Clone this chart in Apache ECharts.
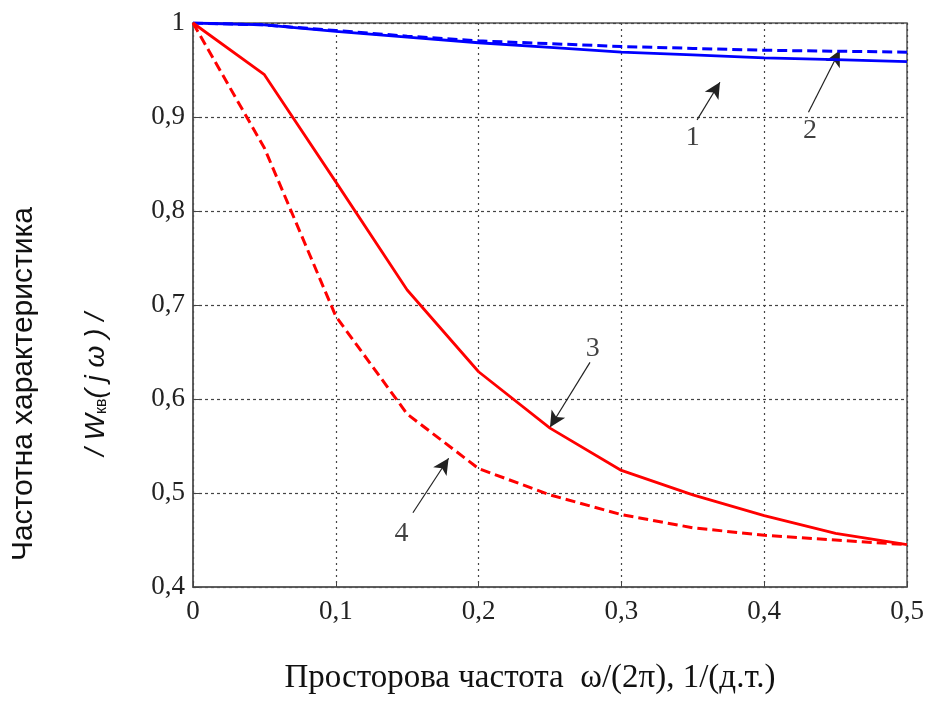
<!DOCTYPE html>
<html><head><meta charset="utf-8">
<script src="https://cdn.jsdelivr.net/npm/echarts@6/dist/echarts.min.js"></script>
<style>html,body{margin:0;padding:0;background:#fff}#c{width:930px;height:709px}</style>
</head><body><div id="c"></div>
<script>
const freq = [0, 0.05, 0.1, 0.15, 0.2, 0.25, 0.3, 0.35, 0.4, 0.45, 0.5];
const curve1 = [1.0, 0.998, 0.991, 0.985, 0.979, 0.974, 0.969, 0.966, 0.963, 0.961, 0.959];
const curve2 = [1.0, 0.998, 0.992, 0.986, 0.981, 0.978, 0.975, 0.973, 0.971, 0.970, 0.969];
const curve3 = [1.0, 0.945, 0.831, 0.716, 0.629, 0.569, 0.524, 0.498, 0.476, 0.457, 0.445];
const curve4 = [1.0, 0.867, 0.688, 0.584, 0.526, 0.498, 0.477, 0.463, 0.455, 0.450, 0.445];
const xTicks = ['0', '0,1', '0,2', '0,3', '0,4', '0,5'];
const yTicks = ['0,4', '0,5', '0,6', '0,7', '0,8', '0,9', '1'];
const curveLabels = ['1', '2', '3', '4'];
const labelPos = [[0.350, 0.878], [0.432, 0.886], [0.280, 0.654], [0.146, 0.457]];
const arrowTail = [[0.353, 0.897], [0.431, 0.905], [0.278, 0.639], [0.154, 0.479]];
const arrowHead = [[0.369, 0.937], [0.453, 0.971], [0.250, 0.570], [0.179, 0.537]];

const pair = (ys) => freq.map((x, i) => [x, ys[i]]);
const serif = 'Liberation Serif';
const chart = echarts.init(document.getElementById('c'));
chart.setOption({
  animation: false,
  backgroundColor: '#fff',
  grid: { left: 193, right: 23, top: 23, bottom: 122, show: true, borderColor: '#555', borderWidth: 1.5 },
  xAxis: {
    type: 'value', min: 0, max: 0.5, interval: 0.1,
    name: 'Просторова частота  ω/(2π), 1/(д.т.)', nameLocation: 'middle', nameGap: 75,
    nameTextStyle: { fontFamily: serif, fontSize: 33, color: '#111', padding: [0, 40, 0, 0] },
    axisLine: { show: true, lineStyle: { color: '#555', width: 1.5 } },
    axisTick: { show: true, inside: true, length: 6, lineStyle: { color: '#444' } },
    axisLabel: { fontFamily: serif, fontSize: 27, color: '#222', margin: 11,
      formatter: (v) => xTicks[Math.round(v * 10)] },
    splitLine: { show: true, lineStyle: { type: [2, 4], color: '#444', width: 1.2 } }
  },
  yAxis: {
    type: 'value', min: 0.4, max: 1, interval: 0.1,
    axisLine: { show: true, lineStyle: { color: '#555', width: 1.5 } },
    axisTick: { show: true, inside: true, length: 6, lineStyle: { color: '#444' } },
    axisLabel: { fontFamily: serif, fontSize: 27, color: '#222', margin: 8,
      formatter: (v) => yTicks[Math.round(v * 10) - 4] },
    splitLine: { show: true, lineStyle: { type: [3, 3], color: '#444', width: 1.2 } }
  },
  series: [
    { type: 'line', data: pair(curve1), symbol: 'none', lineStyle: { color: '#0000ff', width: 2.8 }, z: 5 },
    { type: 'line', data: pair(curve2), symbol: 'none', lineStyle: { color: '#0000ff', width: 3, type: [10, 5] }, z: 5 },
    { type: 'line', data: pair(curve3), symbol: 'none', lineStyle: { color: '#ff0000', width: 2.8 }, z: 5 },
    { type: 'line', data: pair(curve4), symbol: 'none', lineStyle: { color: '#ff0000', width: 3, type: [10, 5] }, z: 5,
      markLine: {
        silent: true, symbol: ['none', 'arrow'], symbolSize: [12, 16], animation: false,
        lineStyle: { color: '#222', width: 1.2, type: 'solid' }, label: { show: false },
        data: arrowTail.map((t, i) => [{ coord: t }, { coord: arrowHead[i] }])
      } },
    { type: 'scatter', symbolSize: 0, z: 6,
      data: labelPos.map((p, i) => ({ value: p, name: curveLabels[i] })),
      label: { show: true, position: 'inside', formatter: (p) => p.name,
        fontFamily: serif, fontSize: 28, color: '#111' } }
  ],
  graphic: [
    { type: 'text', left: 9, top: 207, rotation: Math.PI / 2,
      style: { text: 'Частотна характеристика', font: '30px "Liberation Sans"', fill: '#111' } },
    { type: 'text', left: 82, top: 313, rotation: Math.PI / 2,
      style: { text: '{i|/ W}{s|кв}{i|( j ω ) /}', fill: '#111',
        rich: { i: { fontFamily: 'Liberation Sans', fontStyle: 'italic', fontSize: 28 },
                s: { fontFamily: 'Liberation Sans', fontSize: 16, verticalAlign: 'bottom', padding: [10, 0, 0, 0] } } } }
  ]
});
</script></body></html>
